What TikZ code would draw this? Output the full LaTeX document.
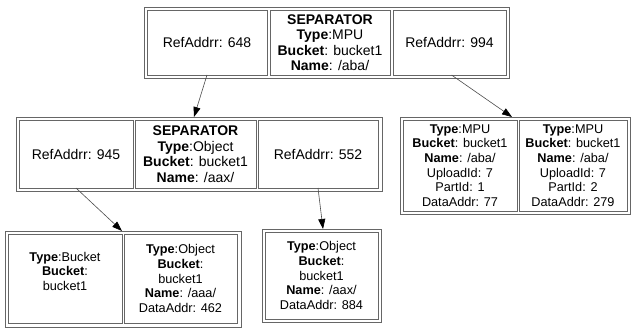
\documentclass[tikz,border=0pt]{standalone}
\usepackage{fontspec}
\setmainfont{Liberation Sans}
\usetikzlibrary{arrows.meta}
\tikzset{
  frame/.style={draw=black!60, line width=0.8pt, inner sep=0pt, outer sep=0pt, fill=white},
  box/.style 2 args={frame, minimum width=#1pt, minimum height=#2pt},
  cell/.style={align=center, font=\fontsize{14}{15.5}\selectfont},
  leaf/.style={align=center, font=\fontsize{12.7}{14.6}\selectfont},
  link/.style={draw=black!70, line width=0.6pt, -{Triangle[length=10pt,width=7pt,color=black]}}
}
\begin{document}
\begin{tikzpicture}[x=1pt,y=-1pt]
\useasboundingbox (0,0) rectangle (631,329);

% root separator record
\node[box={365}{71}] (root) at (326.5,42.5) {};
\node[box={120}{65}, cell] (c648) at (207,42.5) {RefAddrr: 648};
\node[box={120}{65}, cell] (sep1) at (330,42.5) {\textbf{SEPARATOR}\\\textbf{Type}:MPU\\\textbf{Bucket}: bucket1\\\textbf{Name}: /aba/};
\node[box={113}{65}, cell] (c994) at (449.5,42.5) {RefAddrr: 994};

% inner separator record
\node[box={366}{74}] (mid) at (199,154) {};
\node[box={114}{68}, cell] (c945) at (76,154) {RefAddrr: 945};
\node[box={121}{68}, cell] (sep2) at (195.5,154) {\textbf{SEPARATOR}\\\textbf{Type}:Object\\\textbf{Bucket}: bucket1\\\textbf{Name}: /aax/};
\node[box={120}{68}, cell] (c552) at (318,154) {RefAddrr: 552};

% multipart upload parts
\node[box={230}{97}] (mpu) at (515,165.5) {};
\node[box={114}{91}, leaf] (part1) at (460,165.5) {\textbf{Type}:MPU\\\textbf{Bucket}: bucket1\\\textbf{Name}: /aba/\\UploadId: 7\\PartId: 1\\DataAddr: 77};
\node[box={108}{91}, leaf] (part2) at (573,165.5) {\textbf{Type}:MPU\\\textbf{Bucket}: bucket1\\\textbf{Name}: /aba/\\UploadId: 7\\PartId: 2\\DataAddr: 279};

% bucket and object leaf
\node[box={236}{96}] (bl) at (123,279) {};
\node[box={114}{89}, leaf] (bkt) at (65,278.5) {\textbf{Type}:Bucket\\\textbf{Bucket}:\\bucket1\\\mbox{}};
\node[box={113}{89}, leaf] (objaaa) at (180.5,278.5) {\textbf{Type}:Object\\\textbf{Bucket}:\\bucket1\\\textbf{Name}: /aaa/\\DataAddr: 462};

% object leaf
\node[box={119}{93}] (bm) at (321.5,275.5) {};
\node[box={113}{87}, leaf] (objaax) at (321.5,275.5) {\textbf{Type}:Object\\\textbf{Bucket}:\\bucket1\\\textbf{Name}: /aax/\\DataAddr: 884};

% references
\draw[link] (c648.south) -- ([xshift=-5pt]mid.north);
\draw[link] ([xshift=2pt]c994.south) -- ([xshift=-3pt]mpu.north);
\draw[link] (c945.south) -- ([xshift=-1pt]bl.north);
\draw[link] (c552.south) -- ([xshift=1.5pt]bm.north);
\end{tikzpicture}
\end{document}
